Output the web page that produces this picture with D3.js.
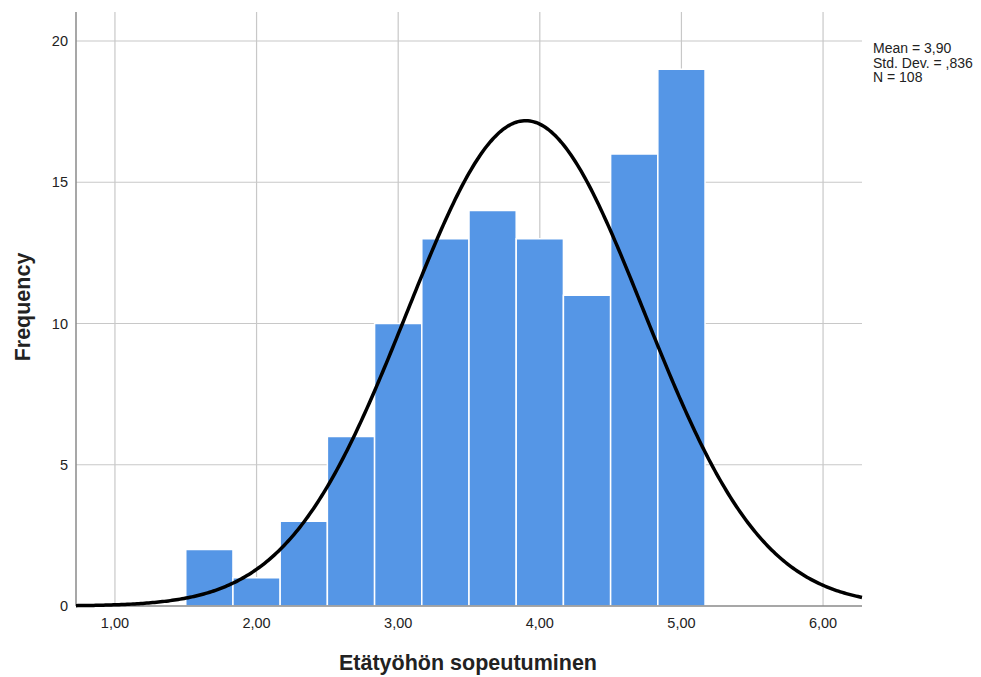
<!DOCTYPE html>
<html>
<head>
<meta charset="utf-8">
<script src="https://cdn.jsdelivr.net/npm/d3@7"></script>
<style>
  body { margin: 0; background: #fff; }
  svg { display: block; font-family: "Liberation Sans", Arial, sans-serif; }
</style>
</head>
<body>
<svg id="chart" width="981" height="677"></svg>
<script>
// Histogram bins: start edge, width, counts
const binStart = 1.5;
const binWidth = 1 / 3;
const counts = [2, 1, 3, 6, 10, 13, 14, 13, 11, 16, 19];

// Summary statistics shown beside the plot
const mean = 3.90;
const stdDev = 0.836;
const n = 108;
const statLines = ["Mean = 3,90", "Std. Dev. = ,836", "N = 108"];

const xTicks = [1, 2, 3, 4, 5, 6];
const yTicks = [0, 5, 10, 15, 20];
const xDomain = [0.725, 6.275];

const svg = d3.select("#chart");
const m = { left: 76, right: 862, top: 12, bottom: 606 };

const x = d3.scaleLinear().domain(xDomain).range([m.left, m.right]);
const y = d3.scaleLinear().domain([0, 20]).range([m.bottom, 41]);

const fmt = v => d3.format(".2f")(v).replace(".", ",");

// Grid lines
svg.append("g").selectAll("line").data(xTicks).join("line")
  .attr("x1", d => x(d)).attr("x2", d => x(d))
  .attr("y1", m.top).attr("y2", m.bottom)
  .attr("stroke", "#c8c8c8").attr("stroke-width", 1.2);
svg.append("g").selectAll("line").data(yTicks.filter(d => d > 0)).join("line")
  .attr("x1", m.left).attr("x2", m.right)
  .attr("y1", d => y(d)).attr("y2", d => y(d))
  .attr("stroke", "#c8c8c8").attr("stroke-width", 1.2);

// Bars
const bins = counts.map((c, i) => ({ x0: binStart + i * binWidth, x1: binStart + (i + 1) * binWidth, c }));
svg.append("g").selectAll("rect").data(bins).join("rect")
  .attr("x", d => x(d.x0))
  .attr("width", d => x(d.x1) - x(d.x0))
  .attr("y", d => y(d.c))
  .attr("height", d => y(0) - y(d.c))
  .attr("fill", "#5596e6")
  .attr("stroke", "#ffffff")
  .attr("stroke-width", 1.5);

// Axis lines
svg.append("line").attr("x1", m.left).attr("x2", m.left).attr("y1", m.top).attr("y2", m.bottom)
  .attr("stroke", "#8a8a8a").attr("stroke-width", 1.5);
svg.append("line").attr("x1", m.left).attr("x2", m.right).attr("y1", m.bottom).attr("y2", m.bottom)
  .attr("stroke", "#8a8a8a").attr("stroke-width", 1.5);

// Normal curve scaled to frequency
const pdf = v => Math.exp(-0.5 * ((v - mean) / stdDev) ** 2) / (stdDev * Math.sqrt(2 * Math.PI));
const pts = d3.range(0, 401).map(i => xDomain[0] + (xDomain[1] - xDomain[0]) * i / 400);
svg.append("path")
  .datum(pts)
  .attr("fill", "none")
  .attr("stroke", "#000")
  .attr("stroke-width", 3.5)
  .attr("d", d3.line().x(v => x(v)).y(v => y(n * binWidth * pdf(v))));

// Tick labels
svg.append("g").selectAll("text").data(xTicks).join("text")
  .attr("x", d => x(d)).attr("y", 628)
  .attr("text-anchor", "middle")
  .attr("font-size", 14.5).attr("fill", "#222")
  .text(fmt);
svg.append("g").selectAll("text").data(yTicks).join("text")
  .attr("x", 68).attr("y", d => y(d) + 5)
  .attr("text-anchor", "end")
  .attr("font-size", 14.5).attr("fill", "#222")
  .text(d => d);

// Axis titles
svg.append("text")
  .attr("x", 468).attr("y", 670)
  .attr("text-anchor", "middle")
  .attr("font-size", 21.5).attr("font-weight", "bold").attr("fill", "#222")
  .text("Etätyöhön sopeutuminen");
svg.append("text")
  .attr("transform", "translate(29.5,307) rotate(-90)")
  .attr("text-anchor", "middle")
  .attr("font-size", 21.5).attr("font-weight", "bold").attr("fill", "#222")
  .text("Frequency");

// Statistics block
svg.append("g").selectAll("text").data(statLines).join("text")
  .attr("x", 873).attr("y", (d, i) => 53 + i * 14.5)
  .attr("font-size", 14).attr("fill", "#222")
  .text(d => d);
</script>
</body>
</html>
